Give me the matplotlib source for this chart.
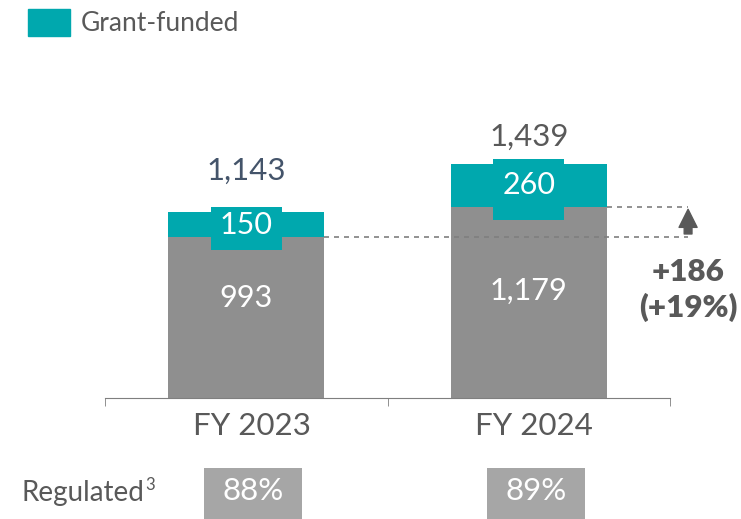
import matplotlib
matplotlib.use("Agg")
import matplotlib.pyplot as plt
from matplotlib.patches import Patch

plt.rcParams['font.family'] = ['Lato', 'DejaVu Sans']

# 数据
years = ['FY 2023', 'FY 2024']
base_vals = [993, 1179]        # 灰色部分
grant_vals = [150, 260]        # Grant-funded
regulated = [88, 89]           # Regulated 占比 %
total_colors = ['#44546A', '#595959']

teal = '#00A8AE'
grey = '#8F8F8F'
txt = '#595959'

fig = plt.figure(figsize=(7.41, 5.19), dpi=100)
W, H = 741, 519
# 主图区域（像素换算）
ax = fig.add_axes([105 / W, 1 - 398 / H, 565 / W, 368 / H])
ax.set_xlim(-0.5, 1.5)
ax.set_ylim(0, 2266)

x = list(range(len(years)))
totals = [b + g for b, g in zip(base_vals, grant_vals)]
bw = 0.552

ax.bar(x, base_vals, width=bw, color=grey, edgecolor='none', zorder=2)
ax.bar(x, grant_vals, width=bw, bottom=base_vals, color=teal, edgecolor='none', zorder=2)
# 数字底框
ax.bar(x, [g + 115 for g in grant_vals], width=0.25, bottom=[b - 80 for b in base_vals],
       color=teal, edgecolor='none', zorder=3)

# 标签
inner_dy = [14, 8]
total_dy = [30, 20]
for i in x:
    ax.annotate(str(grant_vals[i]), (i, base_vals[i] + grant_vals[i] / 2), ha='center', va='center',
                fontsize=22, color='white', zorder=4)
    ax.annotate(f'{base_vals[i]:,}', (i, base_vals[i] / 2), xytext=(0, inner_dy[i]),
                textcoords='offset points', ha='center', va='center', fontsize=22, color='white', zorder=4)
    ax.annotate(f'{totals[i]:,}', (i, totals[i]), xytext=(0, total_dy[i]),
                textcoords='offset points', ha='center', va='center', fontsize=22.5, color=total_colors[i])
    ax.annotate(years[i], (i, 0), xytext=(4, -20.5), textcoords='offset points',
                ha='center', va='center', fontsize=22.5, color=txt, annotation_clip=False)

# 增长虚线与箭头
xa = 1.564
ax.plot([0 + bw / 2, xa], [base_vals[0], base_vals[0]], ls=(0, (3, 3)), color='#7F7F7F', lw=1.2, clip_on=False)
ax.plot([1 + bw / 2, xa], [base_vals[1], base_vals[1]], ls=(0, (3, 3)), color='#7F7F7F', lw=1.2, clip_on=False)
ax.annotate('', xy=(xa, base_vals[1]), xytext=(xa, base_vals[0]), annotation_clip=False,
            arrowprops=dict(arrowstyle='simple,head_length=0.65,head_width=0.65,tail_width=0.28',
                            color='#595959', shrinkA=2, shrinkB=2, mutation_scale=20))
diff = base_vals[1] - base_vals[0]
pct = round(diff / base_vals[0] * 100)
ax.text(xa, 776, f'+{diff}', ha='center', va='center', fontsize=22.5, fontweight='heavy', color=txt, clip_on=False)
ax.text(xa, 560, f'(+{pct}%)', ha='center', va='center', fontsize=22.5, fontweight='heavy', color=txt, clip_on=False)

# 坐标轴
for s in ['top', 'right', 'left']:
    ax.spines[s].set_visible(False)
ax.spines['bottom'].set_color('#7F7F7F')
ax.set_yticks([])
ax.set_xticks([])
ax.set_xticks([-0.5, 0.5, 1.5], minor=True)
ax.tick_params(axis='x', which='minor', length=6, color='#7F7F7F', direction='out')

# Regulated 行
ax2 = fig.add_axes([105 / W, 0, 565 / W, 51 / H])
ax2.set_xlim(-0.5, 1.5)
ax2.set_ylim(0, 1)
ax2.axis('off')
rx = [i + 0.025 for i in x]
ax2.bar(rx, [1] * len(rx), width=0.347, color='#A6A6A6', edgecolor='none')
for i in x:
    ax2.text(rx[i], 0.55, f'{regulated[i]}%', ha='center', va='center', fontsize=22.5, color='white')
reg = fig.text(21 / W, 1 - 493 / H, 'Regulated', ha='left', va='center', fontsize=20, color=txt)
# 上标 3
ax2.annotate('3', xy=(1, 1), xycoords=reg, xytext=(1, 2), textcoords='offset points',
             ha='left', va='top', fontsize=12, color=txt, annotation_clip=False)

# 图例
fig.legend(handles=[Patch(color=teal, label='Grant-funded')], loc='center left',
           bbox_to_anchor=(28 / W, 1 - 22.5 / H), frameon=False, fontsize=19,
           handlelength=1.6, handleheight=1.2, handletextpad=0.4, borderpad=0, borderaxespad=0,
           labelcolor=txt)

plt.savefig('out.png', dpi=100)
